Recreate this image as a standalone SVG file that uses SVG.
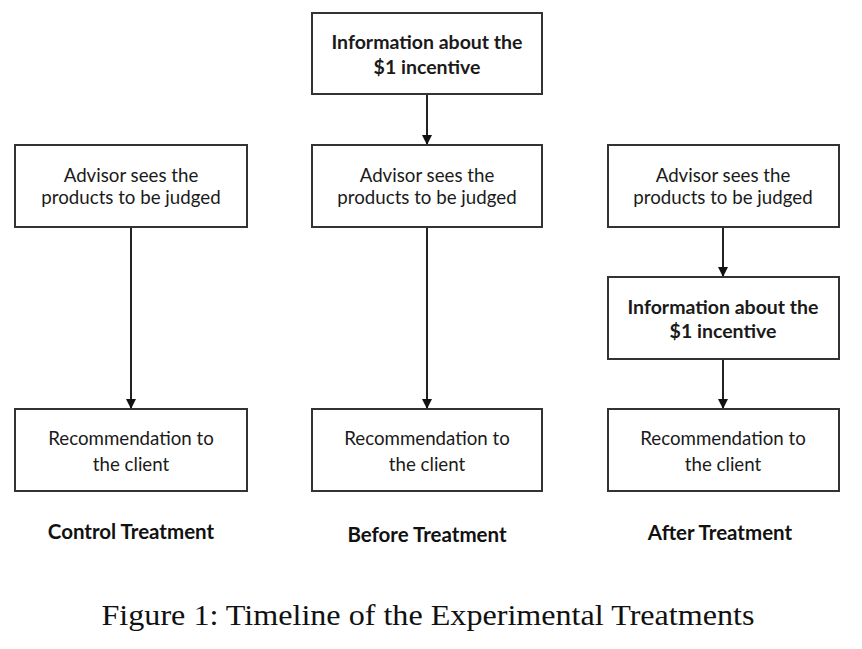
<svg xmlns="http://www.w3.org/2000/svg" width="862" height="649" viewBox="0 0 862 649">
<style>
.box{fill:#fff;stroke:#333;stroke-width:2}
.t{font-family:Lato,"Open Sans",sans-serif;font-size:18.7px;fill:#1a1a1a;text-anchor:middle}
.b{font-weight:bold;font-size:19.5px}
.lbl{font-family:Lato,"Open Sans",sans-serif;font-size:20.5px;font-weight:bold;fill:#111;text-anchor:middle}
.cap{font-family:"Liberation Serif",serif;font-size:30px;fill:#111;text-anchor:middle}
.c{stroke:#222;stroke-width:2;fill:none;marker-end:url(#ah)}
</style>
<defs>
<marker id="ah" viewBox="0 0 10 10" refX="10" refY="5" markerWidth="10" markerHeight="10" markerUnits="userSpaceOnUse" orient="auto">
<path d="M0,0 L10,5 L0,10 z" fill="#111"/>
</marker>
</defs>
<rect width="862" height="649" fill="#fff"/>
<g id="connectors">
<line class="c" x1="427" y1="94" x2="427" y2="145"/>
<line class="c" x1="131" y1="227" x2="131" y2="409"/>
<line class="c" x1="427" y1="227" x2="427" y2="409"/>
<line class="c" x1="723" y1="227" x2="723" y2="277"/>
<line class="c" x1="723" y1="359" x2="723" y2="409"/>
</g>
<g id="info-before">
<rect class="box" x="312" y="13" width="230" height="81"/>
<text class="t b" x="427" y="49">Information about the</text>
<text class="t b" x="427" y="74">$1 incentive</text>
</g>
<g id="advisor-control">
<rect class="box" x="15" y="145" width="232" height="82"/>
<text class="t" x="131" y="182">Advisor sees the</text>
<text class="t" x="131" y="204">products to be judged</text>
</g>
<g id="advisor-before">
<rect class="box" x="312" y="145" width="230" height="82"/>
<text class="t" x="427" y="182">Advisor sees the</text>
<text class="t" x="427" y="204">products to be judged</text>
</g>
<g id="advisor-after">
<rect class="box" x="608" y="145" width="231" height="82"/>
<text class="t" x="723" y="182">Advisor sees the</text>
<text class="t" x="723" y="204">products to be judged</text>
</g>
<g id="info-after">
<rect class="box" x="608" y="277" width="231" height="82"/>
<text class="t b" x="723" y="314">Information about the</text>
<text class="t b" x="723" y="338">$1 incentive</text>
</g>
<g id="rec-control">
<rect class="box" x="15" y="409" width="232" height="82"/>
<text class="t" x="131" y="445">Recommendation to</text>
<text class="t" x="131" y="471">the client</text>
</g>
<g id="rec-before">
<rect class="box" x="312" y="409" width="230" height="82"/>
<text class="t" x="427" y="445">Recommendation to</text>
<text class="t" x="427" y="471">the client</text>
</g>
<g id="rec-after">
<rect class="box" x="608" y="409" width="231" height="82"/>
<text class="t" x="723" y="445">Recommendation to</text>
<text class="t" x="723" y="471">the client</text>
</g>
<text class="lbl" x="131" y="539">Control Treatment</text>
<text class="lbl" x="427" y="542">Before Treatment</text>
<text class="lbl" x="720" y="540">After Treatment</text>
<text class="cap" x="428" y="625" textLength="653" lengthAdjust="spacingAndGlyphs">Figure 1: Timeline of the Experimental Treatments</text>
</svg>
